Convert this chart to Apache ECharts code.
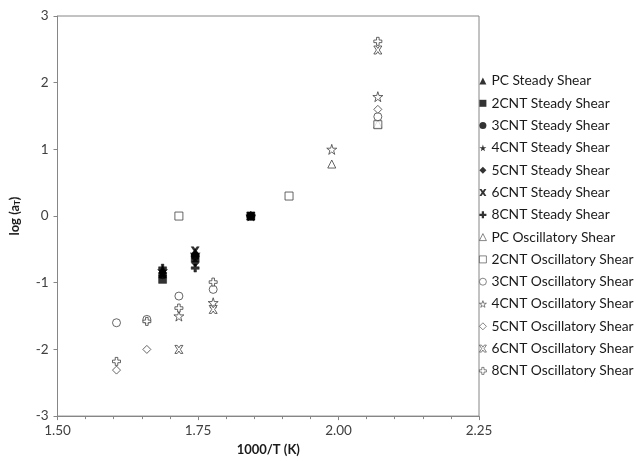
<!DOCTYPE html>
<html>
<head>
<meta charset="utf-8">
<script src="https://cdn.jsdelivr.net/npm/echarts@6/dist/echarts.min.js"></script>
<style>
  html, body { margin: 0; padding: 0; background: #fff; }
  #chart { width: 636px; height: 461px; }
</style>
</head>
<body>
<div id="chart"></div>
<script>
// Shift factors log(aT) against inverse temperature, 1000/T (K)
const steadyX = [1.687, 1.745, 1.844];
const pcSteady  = [-0.80, -0.55, 0];
const c2Steady  = [-0.95, -0.63, 0];
const c3Steady  = [-0.88, -0.60, 0];
const c4Steady  = [-0.82, -0.57, 0];
const c5Steady  = [-0.85, -0.70, 0];
const c6Steady  = [-0.87, -0.52, 0];
const c8Steady  = [-0.78, -0.78, 0];

const pcOscX = [1.988, 2.070];
const pcOscY = [0.78, 1.38];
const c2OscX = [1.716, 1.912, 2.070];
const c2OscY = [0, 0.30, 1.37];
const c3OscX = [1.605, 1.659, 1.716, 1.777, 2.070];
const c3OscY = [-1.60, -1.55, -1.20, -1.10, 1.49];
const c4OscX = [1.716, 1.777, 1.988, 2.070];
const c4OscY = [-1.50, -1.30, 1.00, 1.79];
const c5OscX = [1.605, 1.659, 2.070];
const c5OscY = [-2.31, -2.00, 1.60];
const c6OscX = [1.716, 1.777, 2.070];
const c6OscY = [-2.00, -1.40, 2.49];
const c8OscX = [1.605, 1.659, 1.716, 1.777, 2.070];
const c8OscY = [-2.18, -1.58, -1.38, -0.99, 2.62];

const xTicks = [1.50, 1.75, 2.00, 2.25];
const yTicks = [-3, -2, -1, 0, 1, 2, 3];

const STAR = 'path://M50,0 L61,35 L98,35 L68,57 L79,91 L50,70 L21,91 L32,57 L2,35 L39,35 Z';
const PLUS = 'path://M34,0 H66 V34 H100 V66 H66 V100 H34 V66 H0 V34 H34 Z';
const CROSS = 'path://M0,0 H30 L50,30 L70,0 H100 L68,50 L100,100 H70 L50,70 L30,100 H0 L32,50 Z';

const zip = (xs, ys) => xs.map((x, i) => [x, ys[i]]);

const FILLED = { color: '#000', borderColor: '#000', borderWidth: 0.5 };
const HOLLOW = { color: '#fff', borderColor: '#404040', borderWidth: 1 };

function steady(name, ys, symbol, size) {
  return { name, type: 'scatter', data: zip(steadyX, ys), symbol, symbolSize: size, itemStyle: FILLED };
}
function osc(name, xs, ys, symbol, size) {
  return { name, type: 'scatter', data: zip(xs, ys), symbol, symbolSize: size, itemStyle: HOLLOW };
}

const series = [
  steady('PC Steady Shear', pcSteady, 'triangle', 8),
  steady('2CNT Steady Shear', c2Steady, 'rect', 8),
  steady('3CNT Steady Shear', c3Steady, 'circle', 8),
  steady('4CNT Steady Shear', c4Steady, STAR, 10),
  steady('5CNT Steady Shear', c5Steady, 'diamond', 8),
  steady('6CNT Steady Shear', c6Steady, CROSS, 8),
  steady('8CNT Steady Shear', c8Steady, PLUS, 8),
  osc('PC Oscillatory Shear', pcOscX, pcOscY, 'triangle', 8),
  osc('2CNT Oscillatory Shear', c2OscX, c2OscY, 'rect', 8),
  osc('3CNT Oscillatory Shear', c3OscX, c3OscY, 'circle', 8),
  osc('4CNT Oscillatory Shear', c4OscX, c4OscY, STAR, 10),
  osc('5CNT Oscillatory Shear', c5OscX, c5OscY, 'diamond', 8),
  osc('6CNT Oscillatory Shear', c6OscX, c6OscY, CROSS, 8),
  osc('8CNT Oscillatory Shear', c8OscX, c8OscY, PLUS, 8)
];

const legendData = series.map(s => ({
  name: s.name,
  icon: s.symbol,
  itemStyle: s.itemStyle === FILLED
    ? { color: '#000', borderColor: '#000', borderWidth: 0 }
    : { color: '#fff', borderColor: '#404040', borderWidth: 0.8 }
}));

const FONT = 'Lato';
const chart = echarts.init(document.getElementById('chart'), null, { renderer: 'canvas' });
chart.setOption({
  animation: false,
  backgroundColor: '#fff',
  textStyle: { fontFamily: FONT },
  grid: { left: 52, right: 157, top: 16, bottom: 43, show: true, borderColor: '#868686', borderWidth: 1 },
  legend: {
    orient: 'vertical',
    left: 479,
    top: 73,
    padding: 0,
    itemWidth: 7,
    itemHeight: 7,
    itemGap: 6.3,
    textStyle: { fontFamily: FONT, fontSize: 13.8, color: '#1a1a1a', lineHeight: 16 },
    data: legendData
  },
  xAxis: {
    type: 'value',
    min: xTicks[0], max: xTicks[xTicks.length - 1], interval: 0.25,
    name: '1000/T (K)', nameLocation: 'middle', nameGap: 26,
    nameTextStyle: { fontFamily: FONT, fontWeight: 'bold', fontSize: 13, color: '#1a1a1a' },
    axisLine: { onZero: false, lineStyle: { color: '#868686', width: 1 } },
    axisTick: { show: true, length: 4, inside: false, lineStyle: { color: '#868686' } },
    minorTick: { show: true, splitNumber: 5, length: 3, lineStyle: { color: '#868686' } },
    axisLabel: { fontFamily: FONT, fontSize: 13.5, color: '#404040', margin: 8, formatter: v => v.toFixed(2) },
    splitLine: { show: false }
  },
  yAxis: {
    type: 'value',
    min: yTicks[0], max: yTicks[yTicks.length - 1], interval: 1,
    name: '{b|log (a}{s|T}{b|)}', nameLocation: 'middle', nameGap: 36, nameRotate: 90,
    nameTextStyle: {
      rich: {
        b: { fontFamily: FONT, fontWeight: 'bold', fontSize: 13, color: '#1a1a1a' },
        s: { fontFamily: FONT, fontWeight: 'bold', fontSize: 8, color: '#1a1a1a', verticalAlign: 'bottom', padding: [6, 0, 0, 0] }
      }
    },
    axisLine: { onZero: false, lineStyle: { color: '#868686', width: 1 } },
    axisTick: { show: true, length: 4, lineStyle: { color: '#868686' } },
    axisLabel: { fontFamily: FONT, fontSize: 13.5, color: '#404040', margin: 9 },
    splitLine: { show: false }
  },
  series
});
</script>
</body>
</html>
